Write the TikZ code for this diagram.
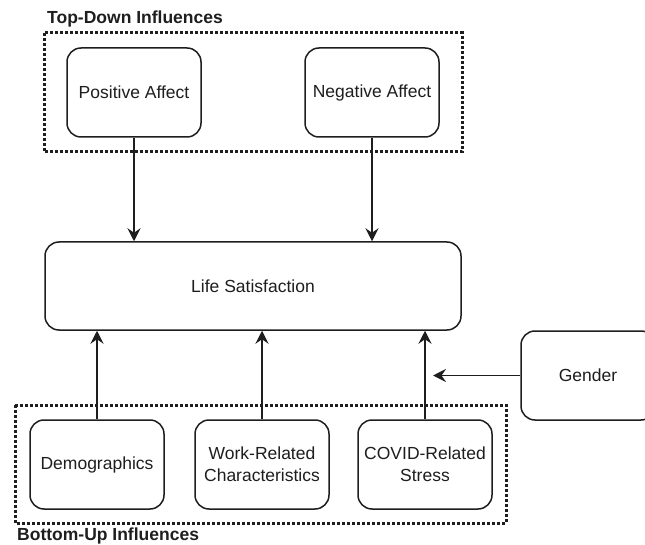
\documentclass[tikz,border=0pt]{standalone}
\usepackage{fontspec}
\setmainfont{Liberation Sans}
\usetikzlibrary{arrows.meta}
\definecolor{ink}{HTML}{1E1E1E}
\tikzset{
  box/.style={draw=ink, line width=1.5pt, rounded corners=14pt, fill=white,
    minimum width=134pt, minimum height=89pt, inner sep=2pt, align=center,
    text=ink, font=\fontsize{17.5}{22}\selectfont},
  group/.style={draw=ink, line width=3pt, dash pattern=on 2.6pt off 2.4pt},
  title/.style={font=\fontsize{17.5}{20}\selectfont\bfseries, text=ink, inner sep=0pt, anchor=base west},
  conn/.style={draw=ink, line width=1.5pt, -{Stealth[length=13pt,width=13pt,inset=4.5pt]}}
}
\begin{document}
\begin{tikzpicture}[x=1pt,y=-1pt]
\useasboundingbox (0,0) rectangle (645,545);
% group frames
\draw[group] (44,33) rectangle (462,152);
\draw[group] (15,405) rectangle (506,523);
\node[title] (tdl) at (47,23.5) {Top-Down Influences};
\node[title] (bul) at (17,540.5) {Bottom-Up Influences};
% nodes
\node[box] (pa) at (134,92.5) {Positive Affect};
\node[box] (na) at (372,92.5) {Negative Affect};
\node[box, minimum width=416pt, minimum height=88pt] (ls) at (253,286) {Life Satisfaction};
\node[box] (demo) at (97,464.5) {Demographics};
\node[box] (work) at (262,464.5) {Work-Related\\Characteristics};
\node[box] (covid) at (425,464.5) {COVID-Related\\Stress};
\node[box] (gender) at (588,375.5) {Gender};
\coordinate (gtip) at (433,375.5);
% connectors
\draw[conn] (pa.south) -- (pa.south |- ls.north);
\draw[conn] (na.south) -- (na.south |- ls.north);
\draw[conn] (demo.north) -- (demo.north |- ls.south);
\draw[conn] (work.north) -- (work.north |- ls.south);
\draw[conn] (covid.north) -- (covid.north |- ls.south);
\draw[conn] (gender.west) -- (gtip);
\end{tikzpicture}
\end{document}
